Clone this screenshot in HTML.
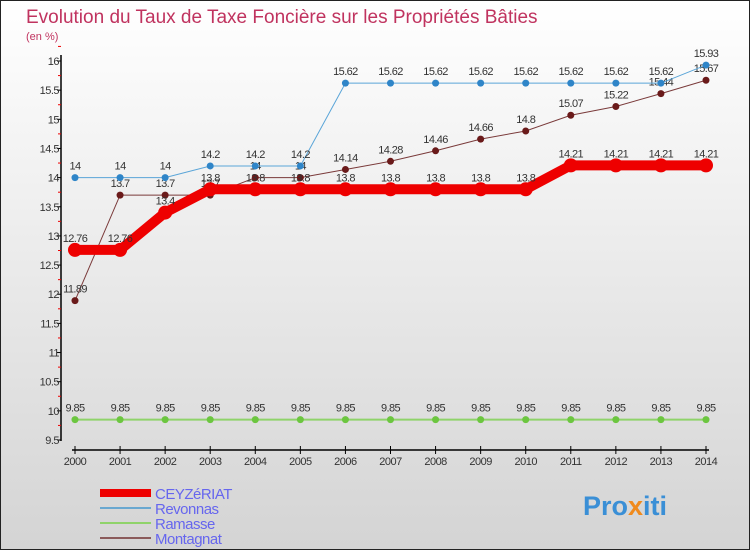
<!DOCTYPE html>
<html><head><meta charset="utf-8"><style>
body{margin:0;width:750px;height:550px;overflow:hidden}
svg{display:block;font-family:"Liberation Sans",sans-serif}
</style></head><body>
<svg width="750" height="550">
<defs><linearGradient id="bg" x1="0" y1="0" x2="0" y2="1"><stop offset="0" stop-color="#ffffff"/><stop offset="1" stop-color="#d4d4d4"/></linearGradient></defs>
<rect x="0.5" y="0.5" width="749" height="549" fill="url(#bg)" stroke="#222"/>
<text x="26" y="23" font-size="19" fill="#c0335f">Evolution du Taux de Taxe Foncière sur les Propriétés Bâties</text>
<text x="26" y="40" font-size="11" fill="#c0335f">(en %)</text>
<g id="axes"></g><g id="series"></g><g id="legend"></g>
<text x="583" y="515" font-size="27" font-weight="bold" fill="#3a8fd6">Pro<tspan fill="#f08a1c">x</tspan>iti</text>
</svg>
<script>
const years=[2000,2001,2002,2003,2004,2005,2006,2007,2008,2009,2010,2011,2012,2013,2014];
const ceyz=[12.76,12.76,13.4,13.8,13.8,13.8,13.8,13.8,13.8,13.8,13.8,14.21,14.21,14.21,14.21];
const revonnas=[14,14,14,14.2,14.2,14.2,15.62,15.62,15.62,15.62,15.62,15.62,15.62,15.62,15.93];
const ramasse=[9.85,9.85,9.85,9.85,9.85,9.85,9.85,9.85,9.85,9.85,9.85,9.85,9.85,9.85,9.85];
const montagnat=[11.89,13.7,13.7,13.7,14,14,14.14,14.28,14.46,14.66,14.8,15.07,15.22,15.44,15.67];
const yTicks=[9.5,10,10.5,11,11.5,12,12.5,13,13.5,14,14.5,15,15.5,16];
const NS="http://www.w3.org/2000/svg";
const x=i=>75+i*(706-75)/(years.length-1);
const y=v=>440-(v-9.5)*(440-61)/6.5;
function mk(p,t,a){const e=document.createElementNS(NS,t);for(const k in a)e.setAttribute(k,a[k]);p.appendChild(e);return e;}
const ax=document.getElementById('axes');
let l=mk(ax,'line',{x1:61,y1:55,x2:61,y2:441,stroke:'#000','stroke-width':1.5});


l=mk(ax,'line',{x1:72,y1:450,x2:709,y2:450,stroke:'#000','stroke-width':1.5});


yTicks.forEach(v=>{
 mk(ax,'line',{x1:57,y1:y(v),x2:61,y2:y(v),stroke:'#000'});
 mk(ax,'line',{x1:58,y1:y(v+0.25),x2:61,y2:y(v+0.25),stroke:'#e00'});
 const t=mk(ax,'text',{x:59,y:y(v)+4,'font-size':11,'text-anchor':'end',fill:'#333','letter-spacing':'-0.5'});
 t.textContent=v;
 
 
});
years.forEach((yr,i)=>{
 mk(ax,'line',{x1:x(i),y1:446,x2:x(i),y2:454,stroke:'#000'});
 const t=mk(ax,'text',{x:x(i),y:465,'font-size':11,'text-anchor':'middle',fill:'#333','letter-spacing':'-0.5'});
 t.textContent=yr;
 
 
});
const sg=document.getElementById('series');
const defs=[[ramasse,'#8fd36a','#6cc640',2,3.5,'ramasse'],[montagnat,'#7a3a3a','#6a1a1a',1,3.5,'montagnat'],[revonnas,'#5aa5d8','#2f85c8',1,3.5,'revonnas'],[ceyz,'#ee0000','#ee0000',10,7,'ceyzeriat']];
defs.forEach(([d,lc,pc,w,r,n])=>{
 const g=mk(sg,'g',{});
 
 
 const p=mk(g,'polyline',{points:d.map((v,i)=>x(i)+','+y(v)).join(' '),fill:'none',stroke:lc,'stroke-width':w});
 
 
 d.forEach((v,i)=>{
  const c=mk(g,'circle',{cx:x(i),cy:y(v),r:r,fill:pc});
  
  
  const t=mk(g,'text',{x:x(i),y:y(v)-8,'font-size':11,'text-anchor':'middle',fill:'#333','letter-spacing':'-0.6'});
  t.textContent=v;
  
  
 });
});
const lg=document.getElementById('legend');
[['CEYZéRIAT','#ee0000',8],['Revonnas','#6aa8d0',2],['Ramasse','#8fd36a',2],['Montagnat','#8a5a5a',2]].forEach(([n,c,w],i)=>{
 const yy=493+i*15;
 const ln=mk(lg,'line',{x1:100,y1:yy,x2:151,y2:yy,stroke:c,'stroke-width':w});
 
 
 const t=mk(lg,'text',{x:155,y:yy+6,'font-size':15,fill:'#6666ee','letter-spacing':'-0.5'});
 t.textContent=n;
 
 
});
</script>
</body></html>
